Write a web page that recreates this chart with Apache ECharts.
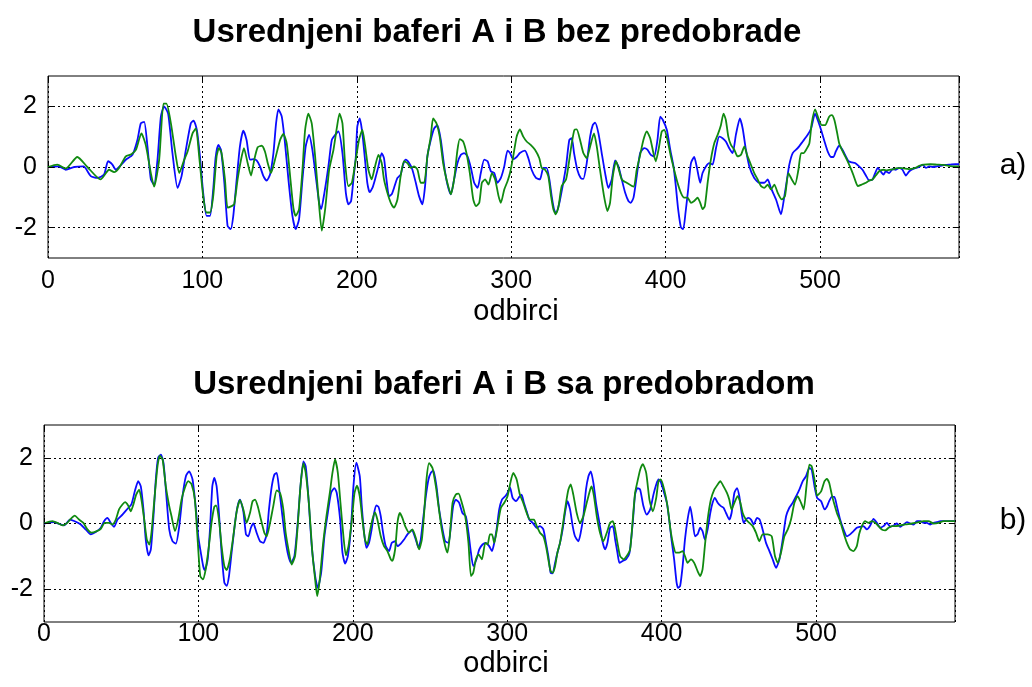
<!DOCTYPE html>
<html>
<head>
<meta charset="utf-8">
<script src="https://cdn.jsdelivr.net/npm/echarts@6.0.0/dist/echarts.min.js"></script>
<style>
html,body{margin:0;padding:0;background:#fff;}
#chart{width:1032px;height:687px;}
</style>
</head>
<body>
<div id="chart"></div>
<script>
// ---- data (sample index, amplitude) ----
const titleA = 'Usrednjeni baferi A i B bez predobrade';
const titleB = 'Usrednjeni baferi A i B sa predobradom';
const xName = 'odbirci';
const xTicks = [0, 100, 200, 300, 400, 500];
const yTicks = [-2, 0, 2];
const xMax = 590;

const aBlue = [[0,0],[7,0.02],[11.5,-0.09],[17,0],[23,0.02],[27.7,-0.3],[32,-0.36],[36.3,-0.25],[38.9,0.19],[41.7,0.08],[43.9,-0.09],[46,0],[50.4,0.24],[54.7,0.4],[57.9,0.89],[60.1,1.44],[62.3,1.49],[64.4,0.68],[66.6,-0.41],[68.7,-0.58],[70.9,0.24],[73.1,1.66],[75.2,2.0],[77.8,1.76],[80.6,0.46],[83.9,-0.69],[86.5,-0.3],[89.3,0.57],[92.5,1.44],[94.3,1.53],[96.4,1.22],
[98.4,0.35],[100.5,-0.85],[102.7,-1.61],[104.9,-1.61],[107,-0.74],[108.5,0.29],[110.3,0.73],[112,0.57],[114.2,-0.52],[116.3,-1.94],[118.3,-2.05],[120,-1.61],[122.2,-0.41],[124.3,0.68],[126.5,1.2],[128.6,0.89],[130.8,0.24],[133,0.26],[135.1,0.22],[137.3,0.02],[139.5,-0.3],[141.6,-0.45],[143.8,-0.25],[146,0.46],[147.7,1.44],[149.2,1.9],[151.4,1.66],[153.5,0.78],[155.7,-0.41],[158.3,-1.61],[160.4,-2.05],[162.6,-1.72],[164.8,-0.41],[166.9,0.68],[169.1,1.06],[171.2,0.57],[173.4,-0.3],[175.6,-1.18],[176.9,-1.39],[179,-0.85],[181.6,0.02],[183.8,0.89],[186,1.06],[188.1,1.17],[190.7,0.46],[192.9,-0.85],[194.6,-1.23],[196.3,-1.12],[198,-0.3],
[199.3,0.3],[200.3,1.33],[201.9,1.6],[203.6,1.11],[205.3,0.24],[206.8,-0.52],[208.3,-0.83],[210.1,-0.69],[211.8,-0.41],[214,0.02],[216.1,0.46],[217.6,0.29],[219.2,-0.41],[220.9,-0.96],[222.6,-0.9],[224.1,-0.69],[226.3,-0.36],[228.4,-0.25],[230,0.08],[231.7,0.24],[233.9,0.13],[236,-0.09],[238.2,-0.52],[240.3,-0.96],[242.5,-1.23],[244.2,-0.63],[245.7,0.35],[247.9,0.89],[250.1,1.27],[252.2,1.38],[254.4,0.89],[256.6,0.02],[258.7,-0.58],[260.9,-0.9],[263,-0.41],[265.2,0.13],[267.4,0.4],[269.5,0.46],[271.7,0.35],[273.9,-0.03],[276,-0.52],[278.2,-0.69],[280.3,-0.2],[282.5,0.24],[284.7,0.19],[286.8,-0.14],[289,-0.2],[291.1,-0.52],[293.3,-0.36],[295.5,0.02],[297.6,0.54],[299.2,0.46],
[301.3,0.26],[303.5,0.33],[305.6,0.46],[308.9,0.54],[311.1,0.29],[313.2,-0.09],[316,-0.36],[318.6,-0.41],[320.8,-0.03],[322.9,-0.03],[324.7,-0.41],[326.2,-0.96],[327.7,-1.39],[329,-1.53],[331.2,-1.18],[333.3,-0.63],[335.5,0.02],[337.6,0.89],[339.2,0.95],[340.7,0.46],[342.8,-0.09],[345,-0.36],[346.7,-0.39],[348.9,0.13],[351.1,1.0],[352.8,1.38],[354.3,1.46],[356.5,1.11],[358.6,0.46],[360.8,-0.2],[362.9,-0.69],[365.1,-0.41],[367.3,0.22],[369.4,0.02],[371.6,-0.41],[373.8,-0.85],[375.9,-1.12],[377.4,-1.18],[379.2,-1.01],[381.3,-0.3],[383.5,0.46],[386.1,0.62],[388.2,0.57],[390.4,0.4],[392.6,0.35],[394.7,0.89],[396.5,1.66],[398.2,1.55],
[400.8,1.22],[403,0.57],[405.1,0.02],[406.6,-0.63],[408.1,-1.39],[409.9,-1.99],[411.4,-2.05],[412.9,-1.5],[414.6,-0.74],[416.4,0.13],[418.5,0.33],[420.3,-0.03],[422.4,-0.52],[423.9,-0.2],[426.1,0.02],[428.2,0.13],[430.4,0.08],[432.6,0.62],[434.7,1.0],[436.9,0.95],[439,0.84],[441.2,0.62],[443.4,0.46],[445.5,1.06],[448.1,1.6],[449.9,1.27],[452,0.57],[454.2,0.02],[457.4,-0.36],[460.7,-0.52],[463.9,-0.52],[466.1,-0.41],[468.2,-0.69],[471.5,-1.07],[474.7,-1.56],[476.9,-0.96],[478.6,-0.41],[480.1,0.08],[482.3,0.46],[485.5,0.62],[488.8,0.84],[492,1.06],[494.2,1.27],
[496.8,1.76],[498.5,1.55],[500.7,1.22],[502.9,0.84],[505,0.51],[507.2,0.33],[508.7,0.33],[510.2,0.51],[512.4,0.7],[514.5,0.57],[516.7,0.35],[518.4,0.19],[520.6,0.15],[522.7,0.13],[525.3,0.02],[527.5,-0.09],[529.7,-0.28],[531.8,-0.44],[534,-0.41],[535.7,-0.2],[537.4,-0.03],[539.2,-0.14],[541.1,-0.25],[542.6,-0.14],[544.8,-0.2],[547,-0.07],[549.1,-0.09],[551.3,-0.03],[553.4,-0.09],[555.6,-0.28],[557.8,-0.14],[559.9,-0.07],[562.1,-0.03],[564.3,0],[566.4,0.08],[568.6,-0.03],[570.7,0.02],[572.9,0],[575.7,0.02],[577.9,0.04],[581.1,0.07],[584.4,0.08],[587.6,0.09],[590,0.09]];

const aGreen = [[0,0],[6,0.08],[11.5,-0.05],[19,0.33],[25.5,0],[34,-0.41],[39.6,-0.09],[42.8,-0.17],[46,-0.03],[50.4,0.35],[54,0.42],[57,0.57],[60.5,1.11],[63.3,0.73],[66.6,-0.2],[68.7,-0.65],[72,0.24],[74.8,2.09],[76.7,2.09],[79.6,1.44],[82.8,0.35],[85,-0.2],[88.2,0.24],[90.4,0.51],[93.6,1.11],[95.8,1.27],[97.9,0.35],
[100.5,-0.96],[102.7,-1.5],[104.9,-1.5],[107,-0.96],[109.2,0.35],[110.7,0.62],[112.4,0.46],[114.6,-0.41],[116.3,-1.34],[118.9,-1.29],[120.6,-1.23],[122.8,-0.41],[125,0.24],[126.9,0.62],[129.3,0.13],[131.5,-0.28],[133.6,0.24],[135.8,0.65],[138.4,0.7],[140.5,0.51],[142.3,0.13],[144.4,-0.2],[147,0.24],[150.3,0.89],[152.4,1.09],[154.6,0.78],[156.8,-0.3],[158.9,-1.34],[160.4,-1.61],[162.6,-1.39],[164.8,-0.09],[166.5,1.22],[168.6,1.76],[170.8,1.44],[173,0.35],[175.1,-0.96],[177.3,-2.1],[179.5,-1.39],[182.1,-0.09],[184.9,0.57],[187,1.27],[188.8,1.76],[190.7,1.44],[192.4,0.13],[194.6,-0.63],[196.8,-0.52],[198.9,0.1],
[201.4,0.89],[203.6,1.22],[205.3,0.73],[207.5,-0.09],[209.6,-0.41],[211.8,0.02],[214,0.4],[216.1,0.13],[217.6,-0.41],[219.8,-0.85],[222,-1.18],[224.1,-1.34],[226.3,-1.07],[228.4,-0.3],[230.6,0.19],[232.8,0.13],[234.9,-0.03],[237.1,0.02],[239.3,-0.09],[241.4,-0.52],[243.6,-0.52],[245.7,0.35],[247.9,1.0],[249.4,1.6],[251.6,1.44],[253.7,1.0],[255.9,0.13],[258.1,-0.41],[260.9,-0.9],[263,-0.41],[265.2,0.57],[266.7,0.92],[268.9,0.84],[271,0.46],[273.2,-0.2],[275.4,-1.07],[277.1,-1.29],[279.3,-1.18],[281,-0.52],[283.1,-0.41],[285.3,-0.58],[287.5,-0.2],[289.6,-0.41],[291.8,-0.96],[293.3,-1.18],[295.5,-0.74],[297.6,-0.47],[299.2,-0.2],
[301.3,0.35],[303.5,1.0],[305.6,1.24],[307.8,1.0],[310,0.84],[312.6,0.73],[315.4,0.57],[318.2,0.29],[319.7,-0.03],[321.9,-0.09],[324,-0.3],[325.8,-0.96],[327.3,-1.39],[328.8,-1.56],[330.5,-1.34],[332.7,-0.63],[335.5,-0.41],[337,0.02],[339.2,0.78],[340.9,1.22],[342.4,1.24],[344.6,0.89],[346.7,0.46],[348.9,0.29],[351.1,0.68],[353.6,1.11],[355.4,0.68],[357.5,-0.09],[360.1,-0.96],[362.3,-1.45],[364,-1.18],[365.8,-0.3],[367.9,0.19],[369.4,-0.03],[371.6,-0.41],[374.8,-0.52],[379.2,-0.65],[381.3,-0.09],[383.5,0.4],[385.6,0.89],[387.8,1.17],[390,0.95],[392.1,0.46],[393.6,0.19],[395.4,0.57],[397.5,1.17],[399.1,1.22],
[401.2,0.89],[403.4,0.35],[405.5,-0.09],[407.7,-0.52],[409.9,-0.85],[412,-1.01],[414.2,-1.01],[416.4,-1.18],[418.5,-1.12],[420.7,-1.01],[422.4,-1.18],[423.9,-1.39],[425.4,-1.29],[427.2,-0.52],[429.3,0.24],[431.5,0.78],[433.7,1.06],[435.8,1.38],[437.5,1.76],[439,1.55],[440.6,1.0],[442.3,0.73],[444.5,0.57],[446.6,0.35],[448.8,0.4],[451,0.68],[452.7,0.4],[454.8,0.13],[457.4,-0.2],[459.6,-0.41],[461.8,-0.63],[463.9,-0.69],[466.1,-0.58],[468.2,-0.74],[470.4,-0.58],[472.6,-0.85],[475.2,-1.07],[477.3,-0.96],[479.5,-0.2],[481.7,-0.41],[483.8,-0.58],[486,-0.09],[487.7,0.46],[489.4,0.46],[491,0.57],[493.1,0.78],[494.6,1.44],
[496.8,1.9],[499,1.6],[501.1,1.38],[503.3,1.38],[505.9,1.66],[507.6,1.71],[509.3,1.55],[510.9,1.17],[512.4,0.78],[514.1,0.57],[516.3,0.35],[518.4,0.13],[520.1,-0.07],[521.7,-0.28],[523.2,-0.5],[524.5,-0.63],[527,-0.58],[529.7,-0.52],[531.8,-0.45],[534,-0.41],[536.1,-0.28],[538.3,-0.14],[541.1,-0.09],[543.3,-0.11],[545.4,-0.09],[547.6,-0.07],[549.8,-0.04],[553,-0.04],[557.3,-0.07],[561.7,-0.03],[564.3,0.04],[567.1,0.08],[571.4,0.09],[575.7,0.08],[580,0.07],[583.3,0.04],[587.6,0.02],[590,0.02]];

const bBlue = [[0,0],[6.5,0.04],[9.7,-0.01],[13,-0.06],[16.9,0.12],[19.9,0.07],[23.8,-0.03],[27,-0.18],[30.3,-0.33],[33.5,-0.26],[36.8,-0.13],[38.9,0.07],[41.1,0.17],[43.2,0.02],[45.4,-0.1],[47.6,0.12],[50.8,0.27],[54.1,0.45],[56.6,0.58],[58.8,0.98],[61,1.29],[62.7,1.13],[64.4,0.43],[65.9,-0.49],[67.7,-0.97],[69.2,-0.79],[70.9,0.22],[72.4,1.34],[73.9,2.0],[75.7,2.1],[77.4,1.84],[79.1,0.93],[81.1,-0.18],[83.2,-0.54],[85.4,-0.61],[87.6,-0.08],[89.7,0.83],[91.9,1.44],[94,1.59],[96.2,1.34],[98.4,0.43],[99.9,-0.39],[101.6,-0.9],
[103.1,-1.3],[104.2,-1.42],[106,-1.09],[107.5,-0.18],[109,1.13],[110.3,1.39],[111.8,1.13],[113.3,0.32],[115,-0.89],[116.8,-1.8],[118.3,-1.9],[119.8,-1.6],[121.5,-0.89],[123.7,0.02],[125.4,0.53],[126.9,0.73],[129.1,0.37],[130.8,-0.33],[132.3,-0.39],[134,-0.13],[135.6,0],[137.7,-0.28],[139.9,-0.54],[142.1,-0.59],[144.2,-0.33],[145.7,0.43],[147.5,1.13],[149.2,1.49],[150.7,1.54],[152.2,1.08],[153.9,0.43],[155.7,-0.28],[157.8,-0.89],[160,-1.2],[162.2,-0.99],[164.3,0.02],[166.1,1.13],[168,1.89],[169.5,1.74],[171.2,0.83],[173.4,-0.69],[175.6,-1.6],[177.3,-1.96],[179.5,-1.5],[181.6,-0.39],[183.8,0.32],[185.9,0.93],[188.1,1.08],[189.6,0.93],[191.8,0.12],[193.3,-0.89],[195,-1.22],[196.8,-0.99],[198.9,-0.08],[200.4,1.13],
[202.3,1.85],[204.5,1.44],[205.8,0.53],[207.3,-0.28],[208.8,-0.74],[210.5,-0.59],[212.2,-0.18],[213.8,0.32],[215.3,0.55],[216.6,0.51],[218.1,0.22],[219.6,-0.28],[221.3,-0.69],[223.5,-0.84],[225.2,-0.59],[227.4,-0.54],[228.9,-0.69],[231.1,-0.61],[233.2,-0.49],[235.4,-0.33],[238.2,-0.2],[240.8,-0.49],[242.5,-0.74],[244,-0.49],[245.5,0.12],[247.3,0.83],[249,1.34],[250.5,1.54],[252.2,1.62],[254.2,1.13],[255.9,0.43],[258.1,-0.18],[259.8,-0.54],[262,-0.59],[263.5,-0.08],[265,0.53],[266.7,0.73],[268.9,0.63],[271,0.32],[273.2,0.22],[274.9,-0.28],[276.5,-0.89],[278,-1.3],[280.1,-1.09],[281.9,-0.79],[284,-0.64],[286.2,-0.59],[288.3,-0.69],[290.1,-0.84],[291.6,-0.59],[293.1,-0.18],[294.8,0.43],[296.6,0.73],[298.7,0.83],[300.2,0.93],
[301.8,1.1],[303.5,0.78],[305.7,0.68],[307.8,0.81],[309.3,0.88],[310.8,0.63],[312.6,0.37],[314.3,0.12],[316.5,0.02],[319.1,-0.13],[321.2,-0.08],[323.4,-0.18],[325.1,-0.59],[326.6,-0.99],[328.1,-1.5],[329.4,-1.52],[331,-1.2],[332.5,-0.89],[334.2,-0.59],[335.9,-0.18],[337.4,0.32],[339,0.68],[340.7,0.43],[342.4,-0.08],[343.9,-0.39],[346.1,-0.54],[347.6,-0.28],[349.3,0.22],[351,1.03],[352.6,1.44],[354.1,1.59],[355.8,1.24],[357.5,0.63],[359.7,0.02],[361.9,-0.59],[363.4,-0.79],[364.9,-0.59],[366.6,-0.13],[368.4,-0.08],[369.9,-0.49],[371.4,-0.89],[372.7,-1.2],[374.8,-1.14],[377,-1.09],[379.2,-0.89],[381.3,0.02],[382.8,0.88],[384.4,1.08],[386.1,1.03],[388.2,0.53],[390.4,0.27],[392.6,0.43],[394.7,0.88],[396.5,1.19],[398,1.34],[399.5,1.26],
[401.2,1.0],[403.4,0.63],[404.9,0.12],[406.4,-0.49],[408.1,-1.09],[409.7,-1.8],[410.7,-1.96],[412,-1.9],[413.6,-1.3],[415.1,-0.49],[416.8,0.12],[418.5,0.51],[420,0.12],[421.6,-0.39],[423.3,-0.33],[425,-0.13],[426.5,-0.23],[428,-0.49],[429.8,-0.18],[431.5,0.32],[433,0.63],[434.5,0.78],[436.3,0.63],[438.4,0.53],[440.1,0.48],[441.7,0.32],[443.8,0.12],[445.3,0.32],[447.1,0.93],[448.8,1.08],[450.3,0.83],[451.8,0.32],[453.1,0.02],[454.6,0.12],[456.1,0.17],[457.9,0.12],[459.6,-0.03],[461.8,0.17],[463.5,0.12],[465.4,-0.18],[467.6,-0.59],[469.8,-0.84],[471.9,-1.09],[474.1,-1.35],[476.3,-1.09],[478.4,-0.49],[480.6,0.22],[482.7,0.48],[484.9,0.63],[487.1,0.83],[489.2,1.03],[491.4,1.29],[493.5,1.44],[495.7,1.69],[497.2,1.64],[499,1.13],[500.7,0.78],
[503.3,0.68],[505.5,0.43],[507,0.51],[508.5,0.68],[510.2,0.81],[511.9,0.81],[513.5,0.53],[515.6,0.12],[517.8,-0.18],[520,-0.39],[522.1,-0.33],[524.3,-0.23],[526.4,-0.13],[528.6,-0.1],[530.7,-0.08],[532.9,-0.18],[535.1,-0.06],[537.2,0.14],[539.4,0.02],[541.6,-0.13],[543.7,-0.08],[545.9,0.02],[548.1,-0.1],[550.2,-0.06],[552.4,0],[554.5,-0.1],[556.7,-0.03],[558.9,0.04],[561,0],[563.2,-0.03],[565.3,0.07],[567.5,0.07],[569.7,0.02],[571.8,0.02],[574,-0.03],[576.2,0.02],[578.3,0.04],[580.5,0.07],[583.7,0.07],[587,0.07],[590,0.07]];

const bGreen = [[0,0],[5.4,0.07],[8.6,0.02],[11.9,-0.06],[15.1,0.02],[17.3,0.14],[19.9,0.24],[22.7,0.12],[25.5,0.02],[28.1,-0.18],[30.7,-0.28],[34.2,-0.23],[36.8,-0.16],[39.3,0.02],[42.2,0.02],[44.3,-0.03],[46.5,0.12],[48.6,0.43],[50.8,0.58],[52.5,0.65],[54.5,0.55],[56.2,0.37],[57.9,0.58],[59.7,0.88],[61.6,1.03],[63.1,0.73],[64.9,0.12],[66.6,-0.49],[68.3,-0.64],[69.6,-0.28],[71.3,0.63],[73.5,1.74],[75,2.07],[76.8,1.95],[78.9,1.13],[81.1,0.53],[82.6,0.22],[84.8,-0.23],[86.9,0.12],[89.1,0.73],[91.2,1.08],[93.4,1.29],[95.6,1.19],[97.7,0.73],[99.5,-0.49],[101.2,-1.6],
[102.9,-1.7],[104.7,-1.4],[106.8,-0.69],[108.5,0.02],[110.3,0.51],[111.4,0.55],[113.3,0.12],[115,-0.69],[116.8,-1.3],[118.3,-1.42],[120.4,-1.09],[122.6,-0.39],[124.8,0.37],[126.9,0.71],[129.1,0.43],[131.2,0.02],[133.4,0.32],[135.1,0.68],[136.7,0.73],[138.4,0.53],[140.5,0.12],[142.7,-0.28],[144.2,-0.39],[146.4,0.02],[148.5,0.53],[150.7,1.01],[152.9,0.93],[155,0.43],[156.5,-0.28],[158.7,-0.89],[160.4,-1.25],[162.6,-0.99],[164.3,-0.08],[166.1,1.13],[168,1.84],[169.5,1.54],[171.7,0.53],[173.8,-0.89],[175.6,-1.7],[176.9,-2.21],[178.6,-1.7],[180.8,-0.59],[182.9,0.22],[185.1,0.93],[186.8,1.54],[188.5,1.95],[190.3,1.54],[192,0.63],[193.7,-0.28],[195.5,-0.97],[197.2,-0.69],[199.4,0.12],[201.1,0.93],
[202.7,1.15],[204.5,0.83],[206.2,0.12],[207.9,-0.49],[209.4,-0.64],[210.9,-0.28],[212.7,0.12],[214.4,0.34],[215.9,0.12],[218.1,-0.39],[220.2,-0.69],[222.4,-0.84],[224.6,-1.09],[225.6,-1.14],[227.4,-0.79],[228.9,0.02],[230.4,0.32],[232.1,0.17],[233.9,-0.08],[236.5,-0.28],[238.6,-0.18],[240.8,-0.44],[242.9,-0.79],[244.7,-0.49],[246.2,0.32],[247.7,1.34],[249.4,1.84],[251.6,1.69],[253.8,1.13],[255.5,0.53],[257.6,-0.18],[259.8,-0.69],[261.3,-0.89],[262.8,-0.39],[264.6,0.63],[266.7,0.88],[268.5,0.91],[270.6,0.63],[272.8,0.22],[274.9,-0.59],[276.5,-1.6],[278,-1.5],[279.7,-1.09],[281.4,-0.94],[283.6,-1.09],[285.8,-0.59],[287.3,-0.64],[288.8,-0.33],[290.1,-0.33],[291.6,-0.59],[293.7,-0.08],[295.9,0.48],[298.1,0.63],[300.2,0.83],
[301.8,1.19],[303.9,1.54],[306.1,1.34],[308.2,0.88],[310.4,0.63],[312.6,0.32],[314.7,0.12],[317.3,0.12],[319.1,-0.08],[321.2,-0.28],[323.4,-0.39],[325.1,-0.69],[326.6,-1.09],[328.1,-1.45],[329.4,-1.5],[331,-1.3],[332.5,-0.89],[334.2,-0.59],[335.9,-0.08],[338.1,0.63],[339.6,1.03],[341.1,1.19],[342.8,0.88],[345,0.32],[347.2,0.02],[349.3,0.22],[351.5,0.63],[353.7,1.03],[354.7,1.13],[356.2,0.83],[358,0.22],[360.1,-0.28],[362.3,-0.54],[364.5,-0.28],[366.6,0.02],[368.4,0.07],[369.9,-0.18],[371.4,-0.59],[373.1,-0.99],[375.3,-1.09],[377.4,-0.99],[379.6,-0.79],[381.3,0.12],[382.8,0.93],[384.4,1.29],[386.1,1.64],[387.8,1.81],[390,1.54],[392.1,0.73],[394.3,0.37],[396.5,0.78],[398,1.29],[399.5,1.34],
[401.7,1.03],[403.8,0.53],[406,-0.28],[407.7,-0.69],[409.2,-0.89],[411.4,-0.89],[413.6,-0.84],[415.1,-0.99],[416.8,-1.2],[419,-1.09],[421.1,-1.2],[423.3,-1.45],[425,-1.6],[426.5,-1.4],[428,-0.69],[429.8,0.12],[431.9,0.73],[434.1,1.03],[436.3,1.19],[438,1.29],[440.1,1.13],[442.3,0.93],[443.8,0.73],[445.3,0.43],[447.1,0.63],[449.2,0.83],[451,0.63],[452.5,0.32],[454.6,0.12],[456.8,0.02],[459,-0.08],[461.1,-0.28],[463.3,-0.54],[465.4,-0.33],[468.7,-0.33],[471.3,-0.39],[473.4,-0.99],[475.2,-1.2],[477.3,-0.89],[479.5,-0.39],[481.7,-0.18],[483.8,0.12],[486,0.63],[488.1,0.83],[490.3,0.63],[492,0.43],[493.8,1.13],[495.7,1.79],[497.2,1.74],[499,1.34],[500.7,0.85],
[503.3,0.98],[505.5,1.29],[507,1.36],[508.5,1.24],[510.2,0.88],[511.9,0.58],[513.5,0.32],[515.6,0.07],[517.8,-0.28],[520,-0.59],[522.1,-0.79],[524.3,-0.84],[526.4,-0.69],[527.9,-0.33],[529.7,-0.08],[531.8,0.07],[534,0.02],[536.2,0.07],[538.3,0.02],[540.5,-0.08],[542.6,-0.18],[544.8,-0.21],[547,-0.13],[549.1,-0.08],[551.3,-0.08],[554.5,-0.06],[557.8,-0.03],[562.1,0],[566.4,0.04],[569.7,0.07],[572.9,0.07],[576.2,0],[579.4,0.02],[582.6,0.07],[585.9,0.07],[590,0.07]];

// ---- chart ----
const FONT = '"Liberation Sans", Arial, Helvetica, sans-serif';
const BLUE = '#0a0aff';
const GREEN = '#108a10';
const GRID_DASH = [2, 3];

const chart = echarts.init(document.getElementById('chart'), null, {renderer: 'canvas'});

function xAxisBottom(gi, labelMargin) {
  return {
    gridIndex: gi, type: 'value', position: 'bottom', min: 0, max: xMax, interval: 100,
    axisLine: {show: false},
    axisTick: {show: true, inside: true, length: 6, lineStyle: {color: '#000', width: 1}},
    axisLabel: {
      show: true, color: '#000', fontSize: 25, fontFamily: FONT, margin: labelMargin,
      showMaxLabel: false,
      formatter: v => (xTicks.indexOf(v) >= 0 ? String(v) : '')
    },
    splitLine: {show: true, lineStyle: {color: '#000', width: 1, type: GRID_DASH}}
  };
}
function xAxisTop(gi) {
  return {
    gridIndex: gi, type: 'value', position: 'top', min: 0, max: xMax, interval: 100,
    axisLine: {show: false},
    axisTick: {show: true, inside: true, length: 6, lineStyle: {color: '#000', width: 1}},
    axisLabel: {show: false}, splitLine: {show: false}
  };
}
function yAxisLeft(gi) {
  return {
    gridIndex: gi, type: 'value', min: -3, max: 3, interval: 1,
    axisLine: {show: false}, axisTick: {show: false},
    axisLabel: {
      color: '#000', fontSize: 25, fontFamily: FONT, margin: 11,
      formatter: v => (yTicks.indexOf(v) >= 0 ? String(v) : '')
    },
    splitLine: {show: true, lineStyle: {color: ['rgba(0,0,0,0)', '#000'], width: 1, type: GRID_DASH}}
  };
}
function tickMarks() {
  const d = [];
  yTicks.forEach(v => {
    d.push([{coord: [0, v]}, {coord: [4, v]}]);
    d.push([{coord: [xMax - 4, v]}, {coord: [xMax, v]}]);
  });
  return {
    silent: true, symbol: ['none', 'none'], animation: false,
    label: {show: false}, lineStyle: {color: '#000', width: 1, type: 'solid'},
    emphasis: {disabled: true}, data: d
  };
}
function lineSeries(data, color, xi, yi, marks) {
  const s = {
    type: 'line', data: data, xAxisIndex: xi, yAxisIndex: yi,
    showSymbol: false, symbol: 'none', smooth: 0.2, clip: true,
    lineStyle: {color: color, width: 1.8}, itemStyle: {color: color},
    emphasis: {disabled: true}, animation: false
  };
  if (marks) s.markLine = tickMarks();
  return s;
}

const option = {
  backgroundColor: '#ffffff',
  animation: false,
  grid: [
    {left: 48, top: 76, width: 911, height: 182, show: true, borderColor: '#000', borderWidth: 1, backgroundColor: '#fff'},
    {left: 44, top: 425, width: 911, height: 197, show: true, borderColor: '#000', borderWidth: 1, backgroundColor: '#fff'}
  ],
  xAxis: [xAxisBottom(0, 11), xAxisTop(0), xAxisBottom(1, 0), xAxisTop(1)],
  yAxis: [yAxisLeft(0), yAxisLeft(1)],
  series: [
    lineSeries(aBlue, BLUE, 0, 0, true),
    lineSeries(aGreen, GREEN, 0, 0, false),
    lineSeries(bBlue, BLUE, 2, 1, true),
    lineSeries(bGreen, GREEN, 2, 1, false)
  ],
  graphic: [
    {type: 'text', x: 497, y: 33, style: {text: titleA, font: 'bold 33px ' + FONT, fill: '#000', align: 'center', verticalAlign: 'middle'}},
    {type: 'text', x: 504, y: 385, style: {text: titleB, font: 'bold 33px ' + FONT, fill: '#000', align: 'center', verticalAlign: 'middle'}},
    {type: 'text', x: 516, y: 312, style: {text: xName, font: '29px ' + FONT, fill: '#000', align: 'center', verticalAlign: 'middle'}},
    {type: 'text', x: 506, y: 664, style: {text: xName, font: '29px ' + FONT, fill: '#000', align: 'center', verticalAlign: 'middle'}},
    {type: 'text', x: 1013, y: 166, style: {text: 'a)', font: '30px ' + FONT, fill: '#000', align: 'center', verticalAlign: 'middle'}},
    {type: 'text', x: 1013, y: 521, style: {text: 'b)', font: '30px ' + FONT, fill: '#000', align: 'center', verticalAlign: 'middle'}}
  ]
};
chart.setOption(option);
</script>
</body>
</html>
